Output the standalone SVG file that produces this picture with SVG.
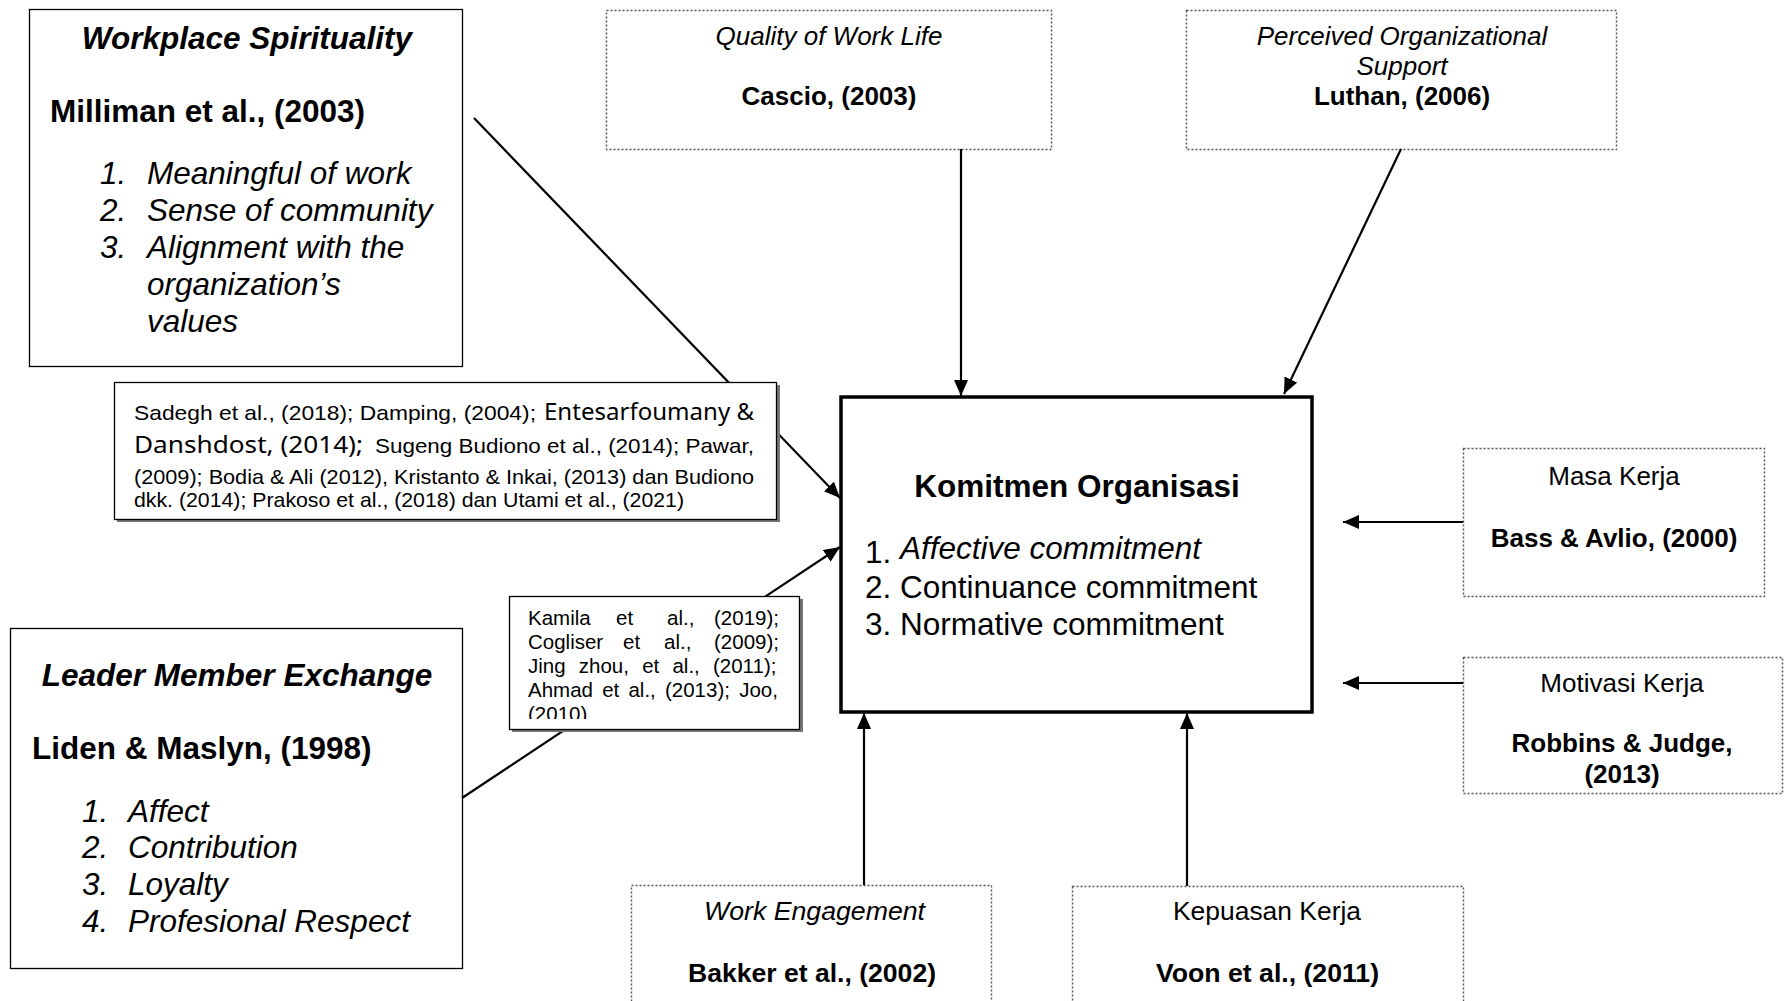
<svg xmlns="http://www.w3.org/2000/svg" width="1786" height="1001" viewBox="0 0 1786 1001">
<style>
.solid{fill:#fff;stroke:#000;stroke-width:1.3}
.dotted{fill:#fff;stroke:#555;stroke-width:1.4;stroke-dasharray:2 2}
.main{fill:#fff;stroke:#000;stroke-width:3.5}
.shadow{fill:#777}
.conn{stroke:#000;stroke-width:2.2;fill:none;marker-end:url(#arr)}
text{font-family:"Liberation Sans",Arial,sans-serif;fill:#000}
.big{font-size:31.5px}
.mid{font-size:26px}
.b{font-weight:bold}
.i{font-style:italic}
.mc{text-anchor:middle}
.cit{font-size:21px}
.cal{font-family:"Noto Sans","Open Sans",sans-serif;font-size:23px}
.kam{font-size:20.5px}
</style>
<defs>
<marker id="arr" markerUnits="userSpaceOnUse" markerWidth="18" markerHeight="16" refX="16" refY="7" orient="auto">
<path d="M0,0 L16,7 L0,14 z" fill="#000"/>
</marker>
<clipPath id="kclip"><rect x="509" y="596" width="292" height="123"/></clipPath>
</defs>

<g id="node-workplace-spirituality">
<rect class="solid" x="29.5" y="9.5" width="433" height="357"/>
<text class="big b i mc" x="247" y="49">Workplace Spirituality</text>
<text class="big b" x="50" y="122">Milliman et al., (2003)</text>
<text class="big i" x="100" y="184">1.</text><text class="big i" x="147" y="184">Meaningful of work</text>
<text class="big i" x="100" y="221">2.</text><text class="big i" x="147" y="221">Sense of community</text>
<text class="big i" x="100" y="258">3.</text><text class="big i" x="147" y="258">Alignment with the</text>
<text class="big i" x="147" y="295">organization’s</text>
<text class="big i" x="147" y="332">values</text>
</g>

<g id="node-leader-member-exchange">
<rect class="solid" x="10.5" y="628.5" width="452" height="340"/>
<text class="big b i mc" x="237" y="686">Leader Member Exchange</text>
<text class="big b" x="32" y="759">Liden &amp; Maslyn, (1998)</text>
<text class="big i" x="82" y="822">1.</text><text class="big i" x="128" y="822">Affect</text>
<text class="big i" x="82" y="858">2.</text><text class="big i" x="128" y="858">Contribution</text>
<text class="big i" x="82" y="895">3.</text><text class="big i" x="128" y="895">Loyalty</text>
<text class="big i" x="82" y="932">4.</text><text class="big i" x="128" y="932">Profesional Respect</text>
</g>

<g id="node-quality-of-work-life">
<rect class="dotted" x="606.5" y="10.5" width="445" height="139"/>
<text class="mid i mc" x="829" y="45">Quality of Work Life</text>
<text class="mid b mc" x="829" y="105">Cascio, (2003)</text>
</g>

<g id="node-perceived-organizational-support">
<rect class="dotted" x="1186.5" y="10.5" width="430" height="139"/>
<text class="mid i mc" x="1402" y="45">Perceived Organizational</text>
<text class="mid i mc" x="1402" y="75">Support</text>
<text class="mid b mc" x="1402" y="105">Luthan, (2006)</text>
</g>

<g id="node-komitmen-organisasi">
<rect class="main" x="841" y="397" width="471" height="315"/>
<text class="big b mc" x="1077" y="497">Komitmen Organisasi</text>
<text class="big" x="865" y="563">1.</text><text class="big i" x="900" y="559">Affective commitment</text>
<text class="big" x="865" y="598">2. Continuance commitment</text>
<text class="big" x="865" y="635">3. Normative commitment</text>
</g>

<g id="node-masa-kerja">
<rect class="dotted" x="1463.5" y="448.5" width="301" height="148"/>
<text class="mid mc" x="1614" y="485">Masa Kerja</text>
<text class="mid b mc" x="1614" y="547">Bass &amp; Avlio, (2000)</text>
</g>

<g id="node-motivasi-kerja">
<rect class="dotted" x="1463.5" y="657.5" width="319" height="136"/>
<text class="mid mc" x="1622" y="692">Motivasi Kerja</text>
<text class="mid b mc" x="1622" y="752">Robbins &amp; Judge,</text>
<text class="mid b mc" x="1622" y="783">(2013)</text>
</g>

<g id="node-work-engagement">
<rect class="dotted" x="631.5" y="885.5" width="360" height="130"/>
<text class="mid i" x="704" y="920" textLength="221" lengthAdjust="spacingAndGlyphs">Work Engagement</text>
<text class="mid b" x="688" y="982" textLength="248" lengthAdjust="spacingAndGlyphs">Bakker et al., (2002)</text>
</g>

<g id="node-kepuasan-kerja">
<rect class="dotted" x="1072.5" y="886.5" width="391" height="130"/>
<text class="mid" x="1173" y="920" textLength="188" lengthAdjust="spacingAndGlyphs">Kepuasan Kerja</text>
<text class="mid b" x="1156" y="982" textLength="223" lengthAdjust="spacingAndGlyphs">Voon et al., (2011)</text>
</g>

<g id="connectors">
<line class="conn" x1="474" y1="118" x2="840" y2="498"/>
<line class="conn" x1="462" y1="798" x2="840" y2="547"/>
<line class="conn" x1="961" y1="149" x2="961" y2="396"/>
<line class="conn" x1="1401" y1="149" x2="1284" y2="394"/>
<line class="conn" x1="1463" y1="522" x2="1343" y2="522"/>
<line class="conn" x1="1463" y1="683" x2="1343" y2="683"/>
<line class="conn" x1="864" y1="885" x2="864" y2="713"/>
<line class="conn" x1="1187" y1="886" x2="1187" y2="713"/>
</g>

<g id="node-citation-ws">
<rect class="shadow" x="117" y="385" width="663" height="137"/>
<rect class="solid" x="114.5" y="382.5" width="662" height="137"/>
<text class="cit" x="134" y="420" textLength="402" lengthAdjust="spacingAndGlyphs">Sadegh et al., (2018); Damping, (2004);</text>
<text class="cal" x="544" y="420" textLength="210" lengthAdjust="spacingAndGlyphs">Entesarfoumany &amp;</text>
<text class="cal" x="134" y="453" textLength="229" lengthAdjust="spacingAndGlyphs">Danshdost, (2014);</text>
<text class="cit" x="375" y="453" textLength="379" lengthAdjust="spacingAndGlyphs">Sugeng Budiono et al., (2014); Pawar,</text>
<text class="cit" x="134" y="484" textLength="620" lengthAdjust="spacingAndGlyphs">(2009); Bodia &amp; Ali (2012), Kristanto &amp; Inkai, (2013) dan Budiono</text>
<text class="cit" x="134" y="507" textLength="550" lengthAdjust="spacingAndGlyphs">dkk. (2014); Prakoso et al., (2018) dan Utami et al., (2021)</text>
</g>

<g id="node-citation-lmx">
<rect class="shadow" x="512" y="599" width="291" height="133"/>
<rect class="solid" x="509.5" y="596.5" width="290" height="133"/>
<g clip-path="url(#kclip)">
<text class="kam" x="528" y="625">Kamila</text>
<text class="kam" x="616" y="625">et</text>
<text class="kam" x="667" y="625">al.,</text>
<text class="kam" x="779" y="625" text-anchor="end">(2019);</text>
<text class="kam" x="528" y="649">Cogliser</text>
<text class="kam" x="623" y="649">et</text>
<text class="kam" x="664" y="649">al.,</text>
<text class="kam" x="779" y="649" text-anchor="end">(2009);</text>
<text class="kam" x="528" y="673" word-spacing="7.5">Jing zhou, et al., (2011);</text>
<text class="kam" x="528" y="697" word-spacing="3.5">Ahmad et al., (2013); Joo,</text>
<text class="kam" x="528" y="721">(2010)</text>
</g>
</g>
</svg>
